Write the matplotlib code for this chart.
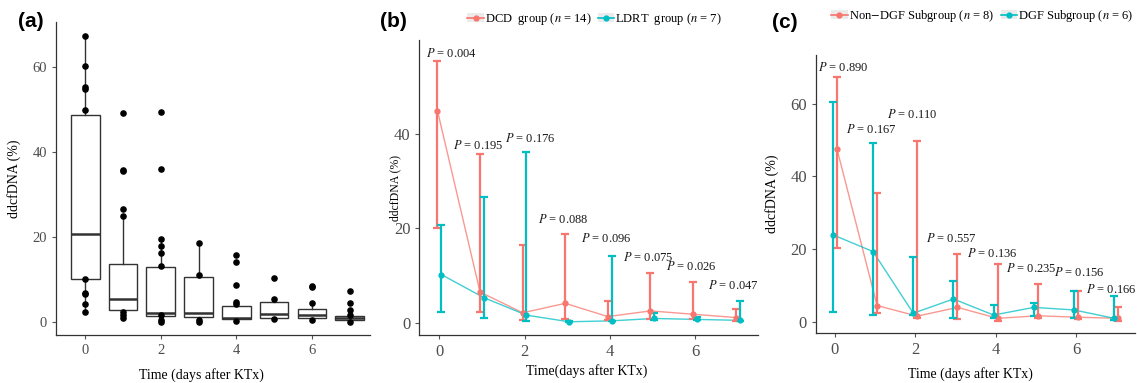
import numpy as np
import matplotlib.pyplot as plt
from matplotlib.lines import Line2D
from matplotlib.patches import Patch
from matplotlib.legend_handler import HandlerTuple

plt.rcParams['font.family'] = ['Liberation Serif', 'DejaVu Serif']
plt.rcParams['mathtext.fontset'] = 'stix'

RED = '#F8766D'
TEAL = '#00BFC4'

days = np.arange(8)

# ---- panel (a): box summaries per day
box_q1 = [10.2, 2.7, 1.3, 1.2, 0.6, 0.9, 0.8, 0.4]
box_med = [20.6, 5.3, 2.0, 2.0, 0.9, 1.8, 1.6, 0.8]
box_q3 = [48.7, 13.6, 12.9, 10.6, 3.8, 4.6, 3.1, 1.4]
box_lo = [2.3, 1.0, 0.4, 0.2, 0.2, 0.6, 0.4, 0.0]
box_hi = [67.3, 24.9, 19.4, 18.6, 4.7, 5.3, 4.5, 2.9]
# individual points drawn on top
pts_a = [
    [67.3, 60.2, 54.9, 55.2, 49.8, 10.0, 6.8, 6.5, 4.2, 2.3],
    [49.2, 35.5, 35.7, 26.5, 24.9, 2.4, 1.6, 1.0],
    [49.4, 36.1, 19.4, 17.9, 16.3, 13.2, 1.6, 0.4, 0.0],
    [18.6, 11.1, 0.4, 0.0],
    [15.7, 14.0, 8.6, 4.7, 4.3, 0.2],
    [10.4, 5.3, 0.6],
    [8.5, 8.1, 4.5, 0.4],
    [7.2, 4.5, 2.9, 1.6, 0.0],
]

# ---- panel (b): DCD vs LDRT
dcd_mid = [44.9, 6.5, 2.1, 4.1, 1.3, 2.5, 1.8, 1.1]
dcd_lo = [20.1, 2.3, 0.5, 0.7, 0.5, 0.8, 0.7, 0.4]
dcd_hi = [55.4, 35.6, 16.4, 18.7, 4.5, 10.5, 8.7, 2.8]
ldrt_mid = [10.2, 5.3, 1.6, 0.2, 0.4, 0.9, 0.7, 0.5]
ldrt_lo = [2.3, 1.1, 0.4, 0.1, 0.3, 0.6, 0.5, 0.3]
ldrt_hi = [20.6, 26.7, 36.2, 0.4, 14.1, 2.1, 1.3, 4.6]
p_b = ['0.004', '0.195', '0.176', '0.088', '0.096', '0.075', '0.026', '0.047']
p_b_x = [0.29, 0.92, 2.13, 2.91, 3.91, 4.91, 5.92, 6.90]
p_b_y = [57.0, 37.5, 39.0, 21.9, 17.9, 13.8, 11.9, 7.8]

# ---- panel (c): Non-DGF vs DGF
ndgf_mid = [47.6, 4.6, 1.7, 4.1, 1.1, 1.8, 1.4, 1.1]
ndgf_lo = [20.3, 2.5, 1.1, 0.8, 0.5, 1.1, 0.9, 0.4]
ndgf_hi = [67.3, 35.6, 49.6, 18.8, 15.9, 10.5, 8.5, 4.3]
dgf_mid = [24.0, 19.4, 2.5, 6.4, 2.0, 4.1, 3.4, 1.1]
dgf_lo = [2.7, 2.0, 2.0, 1.3, 1.1, 1.7, 1.1, 0.6]
dgf_hi = [60.3, 49.3, 18.0, 11.2, 4.8, 5.4, 8.7, 7.3]
p_c = ['0.890', '0.167', '0.110', '0.557', '0.136', '0.235', '0.156', '0.166']
p_c_x = [0.22, 0.91, 1.92, 2.90, 3.92, 4.89, 6.08, 6.89]
p_c_y = [69.9, 53.0, 56.9, 23.0, 18.8, 14.8, 13.7, 8.9]


def style_axes(ax, xlim, ylim, tsize):
    for s in ['top', 'right']:
        ax.spines[s].set_visible(False)
    for s in ['left', 'bottom']:
        ax.spines[s].set_color('#333333')
        ax.spines[s].set_linewidth(0.9)
    ax.set_xlim(*xlim)
    ax.set_ylim(*ylim)
    ax.set_xticks([0, 2, 4, 6])
    ax.set_xticklabels(['0', '2', '4', '6'])
    ax.tick_params(colors='#555555', labelcolor='#4D4D4D', labelsize=tsize,
                   length=3, width=0.8)


def draw_groups(ax, mids, los, his, colors, offsets):
    for mid, lo, hi, col, off in zip(mids, los, his, colors, offsets):
        x = days + off
        mid = np.array(mid)
        err = [mid - np.array(lo), np.array(hi) - mid]
        ax.plot(x, mid, color=col, lw=1.0, alpha=0.75, zorder=2)
        ax.errorbar(x, mid, yerr=err, fmt='o', color=col, ms=3.5,
                    elinewidth=1.6, capsize=2.8, capthick=1.6, zorder=3)


fig = plt.figure(figsize=(11.37, 3.83), dpi=100)

# (a)
ax1 = fig.add_axes([0.0493, 0.1253, 0.2762, 0.8172])
stats = []
for i in range(len(days)):
    stats.append(dict(med=box_med[i], q1=box_q1[i], q3=box_q3[i],
                      whislo=box_lo[i], whishi=box_hi[i], fliers=[]))
ax1.bxp(stats, positions=days, widths=0.76, showfliers=False, patch_artist=True,
        boxprops=dict(facecolor='white', edgecolor='#333333', linewidth=1.0),
        whiskerprops=dict(color='#333333', linewidth=1.0),
        capprops=dict(linewidth=0),
        medianprops=dict(color='#333333', linewidth=1.8))
for d, vals in zip(days, pts_a):
    ax1.scatter(np.full(len(vals), d), vals, s=14, color='black', zorder=4)
style_axes(ax1, (-0.77, 7.54), (-3.1, 70.6), 10.5)
ax1.set_yticks([0, 20, 40, 60])
ax1.set_ylabel('ddcfDNA (%)', fontsize=10)
ax1.set_xlabel('Time (days after KTx)', fontsize=10)
ax1.yaxis.set_label_coords(-0.111, 0.5)
ax1.xaxis.set_label_coords(0.464, -0.105)

# (b)
ax2 = fig.add_axes([0.3688, 0.1253, 0.2979, 0.770])
draw_groups(ax2, [dcd_mid, ldrt_mid], [dcd_lo, ldrt_lo], [dcd_hi, ldrt_hi],
            [RED, TEAL], [-0.045, 0.045])
for lab, x, y in zip(p_b, p_b_x, p_b_y):
    ax2.text(x, y, r'$P$ = ' + lab, ha='center', va='center', fontsize=9,
             color='#1a1a1a')
style_axes(ax2, (-0.47, 7.48), (-2.6, 59.8), 12)
ax2.set_yticks([0, 20, 40])
ax2.set_ylabel('ddcfDNA (%)', fontsize=8.5)
ax2.set_xlabel('Time(days after KTx)', fontsize=10)
ax2.yaxis.set_label_coords(-0.054, 0.5)
ax2.xaxis.set_label_coords(0.494, -0.10)

# (c)
ax3 = fig.add_axes([0.7177, 0.1298, 0.2806, 0.7266])
draw_groups(ax3, [ndgf_mid, dgf_mid], [ndgf_lo, dgf_lo], [ndgf_hi, dgf_hi],
            [RED, TEAL], [0.05, -0.05])
for lab, x, y in zip(p_c, p_c_x, p_c_y):
    ax3.text(x, y, r'$P$ = ' + lab, ha='center', va='center', fontsize=9,
             color='#1a1a1a')
style_axes(ax3, (-0.47, 7.47), (-3.0, 73.3), 12)
ax3.set_yticks([0, 20, 40, 60])
ax3.set_ylabel('ddcfDNA (%)', fontsize=10)
ax3.set_xlabel('Time (days after KTx)', fontsize=10)
ax3.yaxis.set_label_coords(-0.116, 0.5)
ax3.xaxis.set_label_coords(0.485, -0.12)


def key(col):
    bg = Patch(facecolor='#EBEBEB', edgecolor='none')
    ln = Line2D([], [], color=col, marker='o', ms=3.5, lw=1.2)
    return (bg, ln)


fig.legend([key(RED), key(TEAL)],
           [r'DCD  group ($n$ = 14)', r'LDRT  group ($n$ = 7)'],
           handler_map={tuple: HandlerTuple(ndivide=1)},
           loc='center', bbox_to_anchor=(0.523, 0.950), ncol=2, frameon=False,
           fontsize=9, handlelength=1.3, handletextpad=0.1, columnspacing=0.5)
fig.legend([key(RED), key(TEAL)],
           [r'Non$-$DGF Subgroup ($n$ = 8)', r'DGF Subgroup ($n$ = 6)'],
           handler_map={tuple: HandlerTuple(ndivide=1)},
           loc='center', bbox_to_anchor=(0.864, 0.958), ncol=2, frameon=False,
           fontsize=9, handlelength=1.3, handletextpad=0.1, columnspacing=0.5)

for lab, x, y in [('(a)', 0.016, 0.943), ('(b)', 0.334, 0.943), ('(c)', 0.679, 0.940)]:
    fig.text(x, y, lab, fontsize=15, fontweight='bold', family='Liberation Sans',
             va='center', ha='left')

fig.savefig('out.png', dpi=100)
plt.close(fig)
